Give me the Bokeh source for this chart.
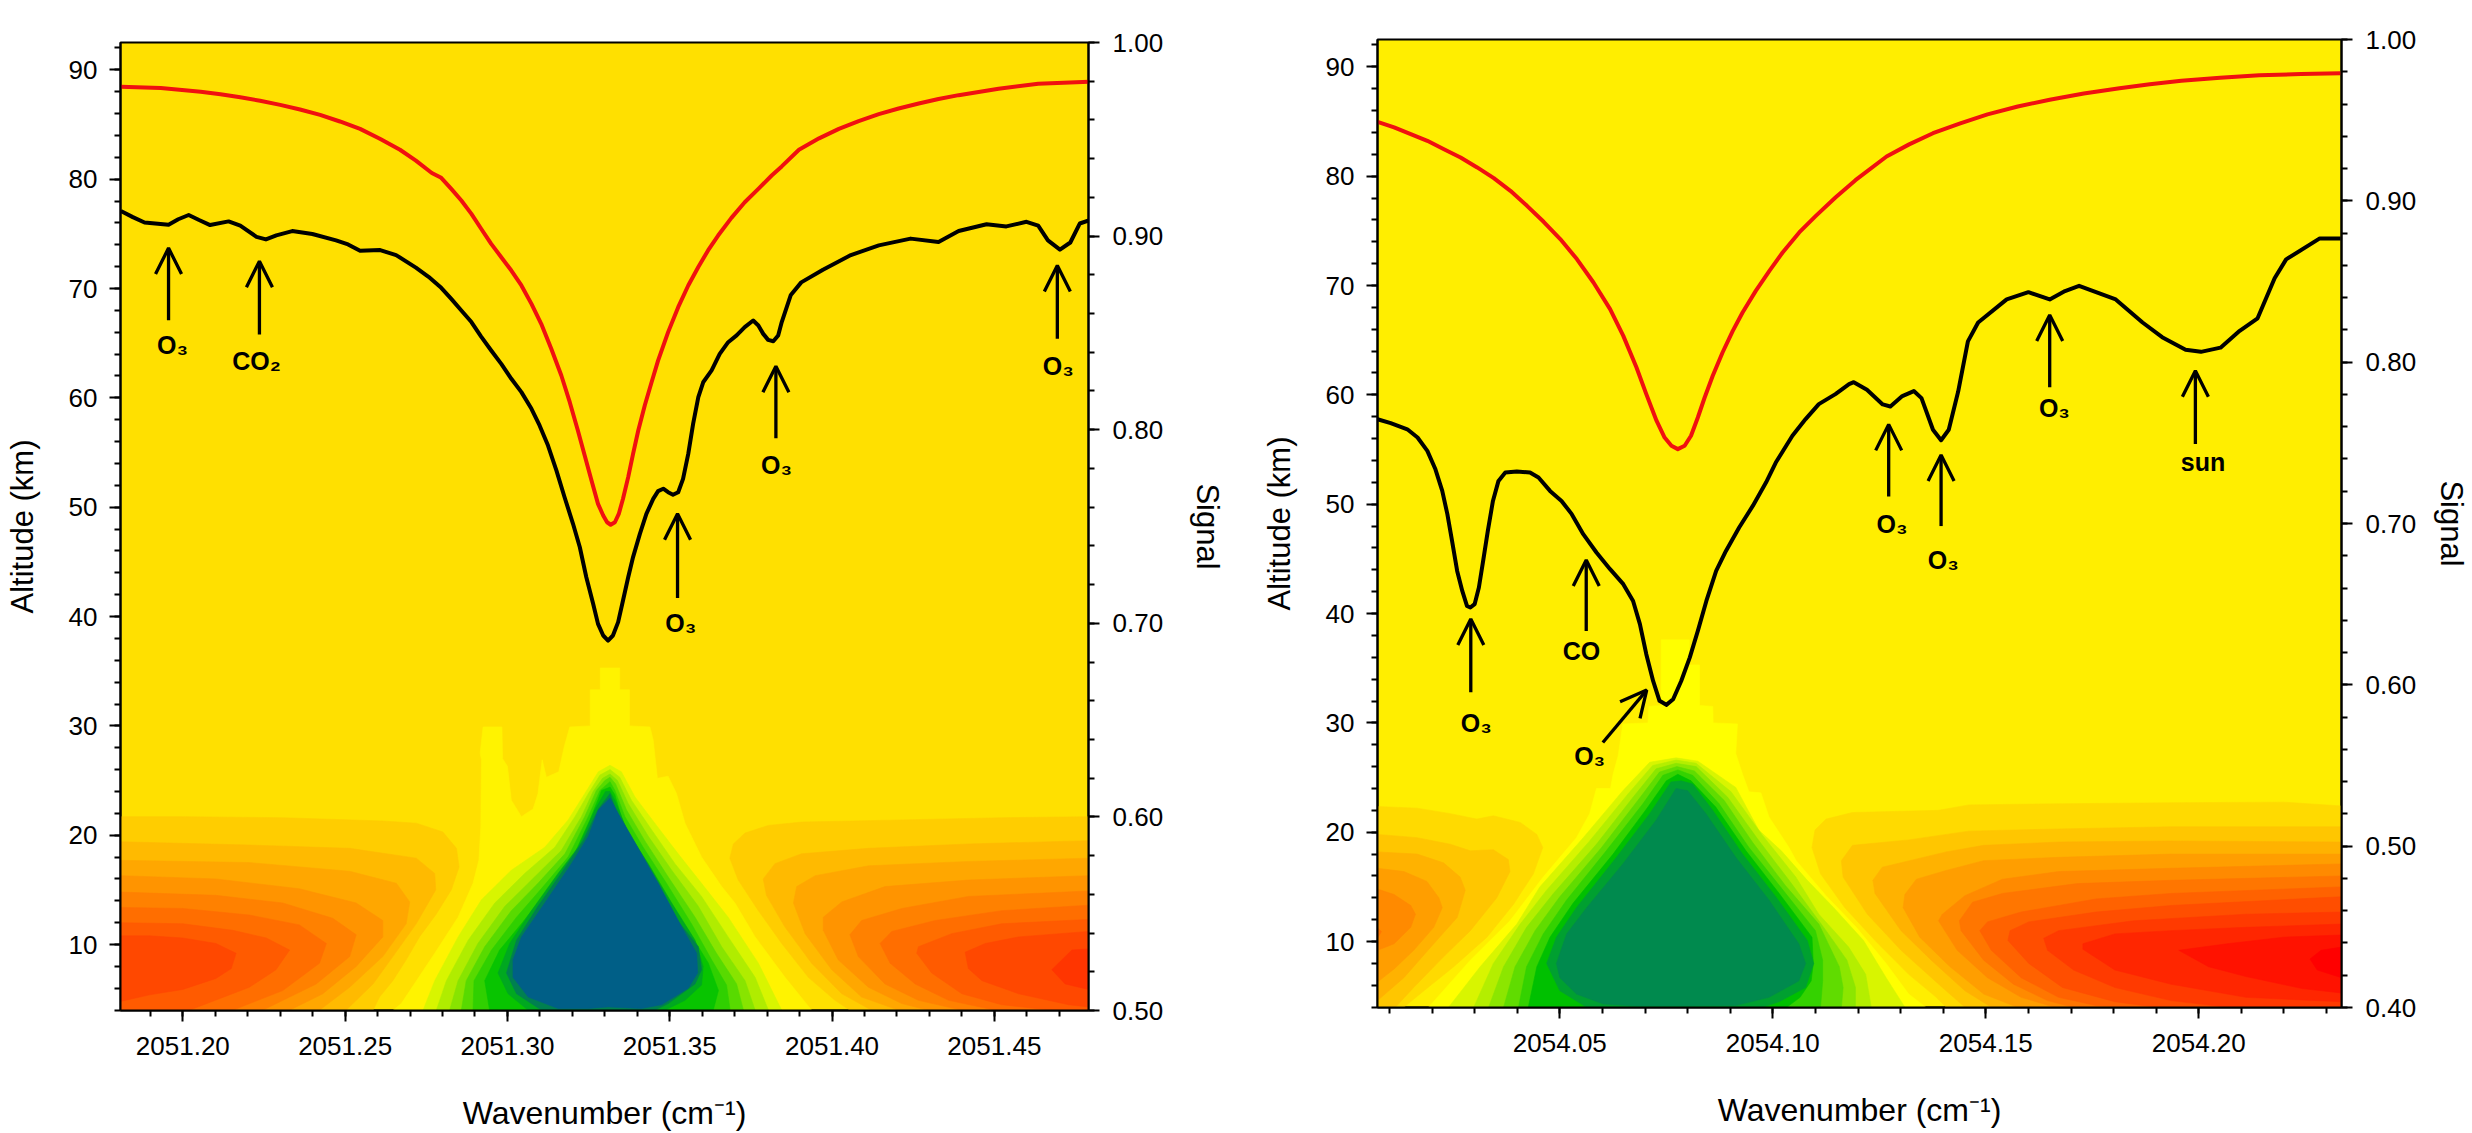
from bokeh.plotting import figure
from bokeh.layouts import row
from bokeh.embed import file_html
from bokeh.resources import INLINE
from bokeh.models import (LinearAxis, Range1d, SingleIntervalTicker,
                          NumeralTickFormatter, Arrow, OpenHead)
from bokeh.core.properties import value
import numpy as np

# wavenumbers below are offsets from the base, in units of 0.0001 cm-1
LEFT_BASE = 2051.0
RIGHT_BASE = 2054.0
LEFT_XLIM = (1808, 4790)
RIGHT_XLIM = (72, 2335)

LEFT_BLACK_WN = [1809,1846,1882,1956,1986,2018,2050,2084,2141,2177,2227,2256,2288,2337,2399,2472,2509,2546,2608,2657,2718,2757,
 2796,2827,2858,2889,2919,2950,2981,3012,3043,3074,3099,3125,3151,3176,3202,3223,3243,3264,3279,3295,3310,3325,3341,3356,3372,3387,3408,3428,3449,3464,3480,3495,3510,3526,3541,3557,3572,3588,3603,3629,3654,3680,3706,3731,3757,3773,3788,3803,3819,3834,3845,
 3873,3905,3972,4058,4144,4242,4328,4390,4476,4537,4599,4635,4665,4702,4734,4763,4795]
LEFT_BLACK_SIGNAL = [.9130,.9098,.9070,.9059,.9087,.9109,.9083,.9057,.9076,.9054,.8996,.8983,.9004,.9026,.9011,.8978,.8957,.8924,.8928,.8902,.8837,.8790,
 .8733,.8676,.8616,.8556,.8481,.8409,.8340,.8263,.8194,.8108,.8022,.7918,.7789,.7651,.7514,.7393,.7238,.7101,.6997,.6937,.6911,.6937,.7006,.7118,.7238,.7342,.7462,.7565,.7643,.7683,.7695,.7677,.7664,.7677,.7746,.7875,.8030,.8168,.8245,.8306,.8392,.8452,.8487,.8530,.8564,.8538,.8495,.8464,.8457,.8487,.8556,
 .8696,.8761,.8826,.8902,.8952,.8987,.8970,.9026,.9061,.9050,.9074,.9054,.8978,.8930,.8967,.9065,.9083]
LEFT_RED_WN = [1809,1932,2055,2116,2177,2238,2300,2361,2423,2484,2546,2607,2669,2718,2767,
 2796,2827,2858,2889,2919,2950,2981,3012,3043,3074,3104,3135,3166,3192,3217,3238,3259,3279,3295,3307,3318,3331,3343,3356,3372,3387,3403,3423,3444,3464,3495,3526,3557,3588,3618,3649,3690,3731,3773,3814,3845,
 3898,3960,4021,4082,4144,4205,4267,4328,4390,4513,4635,4795]
LEFT_RED_SIGNAL = [.9772,.9765,.9746,.9733,.9717,.9699,.9678,.9654,.9626,.9592,.9554,.9503,.9446,.9390,.9326,
 .9301,.9244,.9184,.9115,.9038,.8960,.8891,.8822,.8745,.8650,.8547,.8418,.8280,.8142,.7996,.7867,.7738,.7617,.7557,.7522,.7509,.7522,.7565,.7643,.7755,.7875,.7996,.8125,.8245,.8357,.8504,.8633,.8745,.8840,.8926,.9003,.9094,.9175,.9244,.9313,.9360,
 .9446,.9505,.9554,.9594,.9630,.9659,.9685,.9708,.9728,.9761,.9787,.9798]

RIGHT_BLACK_WN = [72,103,142,166,189,208,224,236,247,259,271,282,290,300,310,320,331,343,356,372,399,430,450,477,504,528,555,586,618,649,672,688,703,719,734,750,766,785,805,824,844,867,890,921,953,984,1007,1046,1077,1108,1147,1179,
 1190,1221,1258,1276,1304,1331,1349,1376,1395,1413,1435,1458,1482,1549,1600,1650,1686,1719,1805,1868,1914,1969,2005,2051,2096,2138,2178,2205,2284,2333]
RIGHT_BLACK_SIGNAL = [.7646,.7622,.7584,.7533,.7450,.7336,.7202,.7058,.6892,.6706,.6582,.6489,.6479,.6500,.6603,.6768,.6954,.7140,.7264,.7316,.7322,.7316,.7285,.7202,.7140,.7058,.6934,.6820,.6717,.6624,.6520,.6376,.6190,.6024,.5901,.5876,.5911,.6024,.6169,.6334,.6520,.6706,.6830,.6975,.7109,.7254,.7378,.7544,.7647,.7740,.7802,.7864,
 .7876,.7829,.7738,.7725,.7790,.7821,.7777,.7581,.7516,.7581,.7816,.8129,.8246,.8389,.8434,.8389,.8441,.8473,.8389,.8246,.8155,.8077,.8064,.8090,.8194,.8272,.8520,.8637,.8767,.8767]
RIGHT_RED_WN = [72,111,150,189,228,267,306,345,384,423,462,501,540,579,618,649,680,703,727,746,762,777,793,808,824,840,859,882,906,929,960,992,1023,1062,1101,1147,1194,
 1267,1320,1376,1440,1504,1575,1650,1730,1814,1885,1959,2050,2142,2240,2333]
RIGHT_RED_SIGNAL = [.9490,.9455,.9413,.9372,.9320,.9269,.9207,.9141,.9062,.8969,.8870,.8763,.8639,.8494,.8329,.8163,.7967,.7802,.7637,.7533,.7482,.7461,.7482,.7544,.7657,.7781,.7916,.8060,.8194,.8308,.8442,.8566,.8680,.8804,.8907,.9021,.9128,
 .9275,.9350,.9419,.9480,.9536,.9585,.9627,.9665,.9698,.9722,.9744,.9763,.9778,.9786,.9791]

# filled contour bands: (wavenumber offset, altitude km) outlines
LEFT_LOBE_A = [
 [(1808,21.7),(2000,21.7),(2308,21.6),(2616,21.3),(2719,21.1),(2801,20.3),(2843,18.8),(2851,17.1),(2827,15),(2781,12.8),(2729,10.7),(2688,8.6),(2647,6.7),(2606,5.2),(2586,4),(1808,4)],
 [(1808,19.4),(2205,19.1),(2514,18.8),(2719,17.9),(2776,16.5),(2779,15),(2719,11.9),(2647,8.9),(2586,6.4),(2503,4),(1808,4)],
 [(1808,17.7),(2205,17.5),(2514,16.7),(2658,15.6),(2699,13.9),(2688,11.9),(2616,8.9),(2514,6.1),(2421,4),(1808,4)],
 [(1808,16.3),(2102,16),(2359,15.1),(2534,13.8),(2616,12.2),(2616,10.7),(2534,8),(2431,5.5),(2329,4),(1808,4)],
 [(1808,14.8),(2102,14.5),(2308,13.8),(2462,12.4),(2534,10.9),(2514,8.9),(2411,6.4),(2329,5.2),(2246,4),(1808,4)],
 [(1808,13.4),(2000,13.3),(2205,12.7),(2359,11.8),(2442,10.1),(2421,8.3),(2308,5.8),(2154,4),(1808,4)],
 [(1808,12),(2000,11.9),(2154,11.3),(2257,10.6),(2329,9.5),(2287,7.7),(2205,6.1),(2020,4),(1808,4)],
 [(1808,10.8),(1897,10.8),(2000,10.6),(2102,10.1),(2164,9.2),(2149,7.8),(2102,6.9),(2000,5.9),(1897,5.4),(1808,4.8)],
]
LEFT_LOBE_B = [
 [(4790,21.7),(4523,21.6),(4215,21.4),(3906,21.2),(3804,20.9),(3732,20.2),(3696,19.2),(3685,17.9),(3711,15.9),(3773,13.1),(3845,10.1),(3927,7),(4009,4.9),(4055,4),(4790,4)],
 [(4790,19.5),(4420,19.2),(4112,18.8),(3906,18.3),(3824,17.4),(3788,16),(3798,14.5),(3855,11.6),(3937,8.3),(4030,5.5),(4122,4),(4790,4)],
 [(4790,17.9),(4420,17.6),(4112,17.2),(3948,16.3),(3891,15.3),(3881,13.8),(3917,11),(3999,7.7),(4091,5.2),(4205,4),(4790,4)],
 [(4790,16.3),(4420,15.9),(4163,15.3),(4030,13.9),(3973,12.5),(3973,11.3),(4019,8.6),(4112,6.1),(4215,4.6),(4297,4),(4790,4)],
 [(4790,14.9),(4420,14.4),(4215,13.3),(4091,12.2),(4055,10.9),(4081,8.9),(4163,6.4),(4266,4.9),(4400,4),(4790,4)],
 [(4790,13.6),(4523,13.1),(4318,12.2),(4184,11.2),(4148,10.1),(4179,8.3),(4256,6.4),(4359,4.9),(4503,4),(4790,4)],
 [(4790,12.3),(4523,11.9),(4369,11),(4266,9.8),(4261,9.2),(4307,7.4),(4400,5.5),(4523,4.5),(4677,4),(4790,4)],
 [(4790,11.2),(4575,10.7),(4472,10.1),(4410,9.3),(4420,7.8),(4462,6.7),(4575,5.5),(4729,4.5),(4790,4.3)],
 [(4790,9.6),(4739,9.5),(4677,7.7),(4718,6.4),(4790,5.9)],
]
LEFT_CORE = [
 [(2648,4),(2673,4.6),(2776,9.2),(2848,12.5),(2894,15.6),(2912,17.7),(2918,20.8),(2920,26.9),(2916,27.5),(2925,29.9),(2983,29.9),(2985,27),(3000,26.3),(3012,23.2),(3043,21.7),(3079,22.4),(3094,23.8),(3107,26.9),(3120,25.3),(3158,25.8),(3175,28.1),(3192,29.9),(3255,30),(3255,33.3),(3286,33.3),(3286,35.3),(3346,35.3),(3346,33.3),(3376,33.3),(3376,30),(3439,29.9),(3449,28.7),(3462,25.2),(3495,25.4),(3521,23.8),(3547,21.1),(3598,18),(3660,15.3),(3701,13.8),(3763,10.7),(3855,7),(3937,4)],
 [(2740,4),(2776,6.7),(2848,10.7),(2920,14.1),(3012,16.8),(3115,18.9),(3187,21.4),(3238,23.8),(3280,25.8),(3316,26.4),(3351,25.8),(3393,23.5),(3454,21.1),(3526,18.3),(3598,15.6),(3680,12.5),(3773,8.3),(3845,4)],
 [(2781,4),(2812,6.7),(2879,10.4),(2961,13.8),(3053,16.5),(3146,18.9),(3208,21.7),(3249,23.8),(3285,25.5),(3316,26),(3346,25.3),(3382,23.2),(3444,20.5),(3516,17.4),(3598,14.4),(3680,10.7),(3763,7),(3804,4)],
 [(2822,4),(2848,6.7),(2909,10.1),(2992,13.5),(3074,15.9),(3166,18.6),(3228,21.7),(3264,24),(3293,25.2),(3316,25.6),(3339,25),(3372,22.9),(3434,19.9),(3506,16.8),(3588,13.5),(3660,9.8),(3732,6.7),(3763,4)],
 [(2858,4),(2873,6.7),(2930,9.8),(3012,13.1),(3094,15.6),(3177,18.3),(3238,21.7),(3274,24.1),(3300,25),(3316,25.3),(3333,24.7),(3367,22.3),(3423,19.5),(3495,16.2),(3578,12.5),(3644,9.2),(3706,6.4),(3727,4)],
 [(2894,4),(2897,6.7),(2951,9.5),(3028,12.5),(3110,15.3),(3187,18),(3249,21.7),(3285,24.1),(3316,24.9),(3331,24.1),(3362,21.7),(3418,18.9),(3490,15.6),(3567,11.9),(3629,8.6),(3675,6.3),(3686,4)],
 [(2945,4),(2930,6.7),(2976,9.5),(3043,11.9),(3125,15),(3197,17.7),(3254,21.4),(3290,24.1),(3316,24.4),(3331,23.7),(3357,21.1),(3413,18.3),(3480,14.7),(3557,11.3),(3619,8.3),(3650,5.8),(3634,4)],
 [(3064,4),(3002,5.5),(2971,7.4),(3007,10.1),(3074,13.1),(3156,16.5),(3218,18.9),(3269,22.3),(3302,24),(3316,24),(3331,23.2),(3372,20.2),(3434,17.4),(3506,13.8),(3578,10.4),(3603,8),(3598,6.3),(3547,4.9),(3485,4)],
 [(3105,4),(3028,5.5),(2997,7.4),(3028,10.4),(3094,13.5),(3172,16.8),(3233,19.5),(3280,22.4),(3316,23.8),(3331,22.6),(3372,19.9),(3444,16.5),(3516,12.5),(3588,9.8),(3598,7.7),(3578,6.4),(3495,4.6),(3454,4)],
 [(3156,4.15),(3064,5.2),(3017,7),(3017,8.6),(3043,10.7),(3115,13.8),(3197,17.4),(3249,19.9),(3280,22.3),(3316,23.4),(3341,22),(3382,19.9),(3465,15.6),(3537,11.6),(3583,9.2),(3586,7.4),(3557,6),(3475,4.5),(3413,4.15),(3310,4.3),(3249,4.15)],
]
RIGHT_LOBE_A = [
 [(72,22.35),(165,22.2),(243,21.7),(305,21.2),(344,21.5),(407,20.9),(446,19.8),(460,18.6),(438,16.2),(391,13.4),(329,10.4),(251,7.7),(181,5.5),(134,4),(72,4)],
 [(72,19.8),(165,19.5),(243,18.9),(290,18.3),(344,18.4),(379,17.5),(383,16.4),(352,14),(290,11),(227,8.6),(157,5.8),(114,4),(72,4)],
 [(72,18.2),(165,18),(227,17.2),(266,15.9),(278,14.7),(259,12.2),(204,9.8),(134,6.7),(72,4.6)],
 [(72,16.7),(134,16.4),(188,15.5),(216,14),(224,13.1),(204,11.3),(157,9.2),(111,7.5),(72,6.3)],
 [(72,14.8),(111,14.3),(150,13.3),(161,12.5),(150,11.3),(111,9.8),(72,9.2)],
 [(72,11.3),(81,10.9),(72,10.3)],
]
RIGHT_LOBE_B = [
 [(2335,22.4),(2199,22.75),(1935,22.7),(1671,22.6),(1460,22.5),(1389,22),(1187,21.8),(1125,21.2),(1099,20.2),(1092,18.6),(1112,16.2),(1169,13.1),(1240,10.1),(1319,7),(1381,5),(1407,4),(2335,4)],
 [(2335,20.5),(1935,20.5),(1671,20.3),(1460,20.1),(1319,19.3),(1187,18.8),(1161,17.4),(1165,15.9),(1222,12.5),(1301,9.2),(1398,5.8),(1451,4),(2335,4)],
 [(2335,19.1),(1935,19.2),(1671,19.1),(1495,18.8),(1407,18.2),(1257,16.8),(1235,15.6),(1240,14.4),(1301,11),(1372,8.3),(1451,5.5),(1513,4),(2335,4)],
 [(2335,18),(1935,18),(1671,17.7),(1495,17.4),(1407,16.5),(1337,15.7),(1310,14.3),(1306,13.1),(1345,10.4),(1416,7.7),(1495,5.2),(1574,4),(2335,4)],
 [(2335,17.1),(1935,16.7),(1671,16.4),(1539,15.7),(1451,14.2),(1398,12.5),(1389,11.9),(1433,9.2),(1504,6.7),(1583,4.9),(1662,4),(2335,4)],
 [(2335,16),(1935,15.6),(1715,15.3),(1539,14.4),(1469,13.6),(1438,11.9),(1442,11),(1495,8.3),(1565,6.1),(1645,4.6),(1705,4),(2335,4)],
 [(2335,15),(1935,14.4),(1759,13.9),(1583,12.7),(1504,11.8),(1486,11),(1513,9.2),(1583,6.7),(1671,4.9),(1759,4.15),(1829,4),(2335,4)],
 [(2335,14.1),(1935,13.3),(1759,12.7),(1601,11.8),(1557,11),(1552,10.1),(1601,8),(1680,5.8),(1803,4.5),(1900,4),(2335,4)],
 [(2335,12.7),(2111,12.5),(1847,11.9),(1671,11),(1636,10.3),(1645,9.2),(1706,7.4),(1803,5.8),(1935,4.6),(2067,4),(2335,4)],
 [(2335,11.6),(2111,11.3),(1935,11),(1803,10.7),(1728,9.8),(1728,9.3),(1803,7.4),(1935,6.1),(2111,4.9),(2335,4.5)],
 [(2335,10.6),(2199,10.4),(2067,9.8),(1953,9.2),(2023,7.7),(2111,6.8),(2243,5.7),(2335,5.3)],
 [(2335,9.5),(2287,9.2),(2261,8.4),(2278,7.4),(2335,6.7)],
]
RIGHT_CORE = [
 [(192,4),(290,8.3),(383,11.9),(461,15.9),(539,19.5),(570,21.7),(586,24),(619,24),(625,25.3),(637,27),(648,29.9),(707,30),(709,31.5),(738,31.6),(738,37.6),(804,37.6),(804,35.3),(828,35.3),(828,31.6),(859,31.5),(860,30),(917,29.9),(913,27.2),(929,25.3),(944,23.7),(972,23.6),(991,21.4),(1038,18.6),(1055,17.4),(1125,14.2),(1196,11.3),(1266,8),(1319,5.2),(1359,4)],
 [(239,4),(313,7.7),(399,11.6),(453,15),(555,19.5),(648,23.8),(711,26.4),(773,26.8),(824,26.5),(913,24.1),(967,20.2),(1020,18.3),(1081,15.6),(1143,13.1),(1213,10.1),(1266,6.7),(1310,4)],
 [(298,4),(344,8),(407,11.6),(469,14.7),(570,19.2),(660,23.5),(718,26.1),(773,26.6),(820,26.3),(902,23.7),(976,19.7),(1054,15.9),(1108,12.5),(1178,9.5),(1218,7),(1231,4)],
 [(333,4),(368,7.7),(422,11.3),(485,14.4),(586,18.9),(672,23.2),(726,25.8),(773,26.3),(820,26),(894,23.2),(964,19.4),(1042,15.4),(1125,11),(1174,8.3),(1194,5.8),(1194,4)],
 [(368,4),(395,7.7),(442,11),(500,14.1),(598,18.6),(683,22.9),(734,25.5),(775,26),(816,25.6),(886,22.9),(952,19.1),(1030,15.1),(1108,11.6),(1156,7.7),(1165,5.8),(1161,4)],
 [(403,4),(422,7.7),(461,10.7),(516,13.8),(609,18.3),(695,22.6),(742,25.2),(777,25.7),(812,25.2),(874,22.6),(944,18.6),(1022,14.8),(1100,11),(1117,8.3),(1117,6.4),(1112,4)],
 [(426,4),(446,7.7),(477,10.4),(531,13.5),(625,18),(703,22.1),(750,24.7),(777,25.3),(808,24.7),(866,22.3),(937,18.3),(1015,14.4),(1092,10.4),(1095,8),(1090,6.4),(1064,4.9),(1033,4)],
 [(563,4),(500,5.5),(469,8),(492,10.4),(539,13.1),(633,17.7),(711,21.7),(761,24.6),(785,24.7),(812,24.4),(859,22),(929,18),(1007,14.1),(1081,10.1),(1096,8),(1077,5.8),(1015,4.5),(976,4)],
 [(492,8),(516,10.7),(563,13.1),(648,17.1),(726,21.1),(773,24),(800,23.8),(843,21.7),(913,17.7),(991,13.8),(1061,9.8),(1077,8),(1061,6.4),(991,4.9),(913,4.15),(796,4.1),(680,4.1),(602,4.3),(539,5.2),(500,6.7)],
]
LEFT_LOBE_COLORS = ["#FFCD00","#FFBA00","#FFA700","#FF9400","#FF8100","#FF6E00","#FF5B00","#FF4800","#FF3500"]
LEFT_CORE_COLORS = ["#FFF300","#D8F500","#B0EC00","#88E400","#58DA00","#30D000","#08C400","#00A820","#008050","#005F87"]
RIGHT_LOBE_COLORS = ["#FFDA00","#FFC600","#FFB200","#FF9E00","#FF8A00","#FF7600","#FF6200","#FF4E00","#FF3A00","#FF2600","#FF1200","#FF0000"]
RIGHT_CORE_COLORS = ["#FFFF00","#D8F500","#B4EE00","#8CE600","#60DC00","#34D200","#00C000","#00A030","#008A4E"]

# annotation arrows: wavenumber offset, tail km, head km
LEFT_ARROWS = [(1956,67.1,1956,73.7),(2236,65.8,2236,72.5),(4694,65.4,4694,72.1),(3827,56.3,3827,62.9),(3524,41.7,3524,49.4)]
RIGHT_ARROWS = [(291,32.8,291,39.5),(562,38.4,562,44.9),(601,28.2,704,33),(1272,50.7,1272,57.3),(1395,48,1395,54.5),(1650,60.7,1650,67.3),(1992,55.5,1992,62.2)]
LEFT_LABELS = ["O₃","CO₂","O₃","O₃","O₃"]
LEFT_LABEL_WN = [1968,2227,4697,3829,3534]
LEFT_LABEL_KM = [64.8,63.4,62.9,53.9,39.4]
RIGHT_LABELS = ["O₃","CO","O₃","O₃","O₃","O₃","sun"]
RIGHT_LABEL_WN = [304,551,570,1280,1400,1661,2010]
RIGHT_LABEL_KM = [30,36.6,27,48.2,44.9,58.8,53.9]

FONT = "Liberation Sans"

def panel(base, xlim, sig0, bg, width, bl, br, bands, black, red, arrows, labels, signal_standoff, styles):
    x0, x1 = base + xlim[0]*1e-4, base + xlim[1]*1e-4
    p = figure(width=width, height=1133, output_backend="svg", toolbar_location=None,
               x_range=Range1d(x0, x1), y_range=Range1d(3.97, 92.5),
               min_border_left=bl, min_border_right=br, min_border_top=42, min_border_bottom=123,
               background_fill_color=bg, outline_line_color="#000000", outline_line_width=2, styles=styles)
    p.grid.visible = False
    p.extra_y_ranges = {"signal": Range1d(sig0, 1.0)}
    for polys, colors in bands:
        xs = [[base + a*1e-4 for a, _ in poly] for poly in polys]
        ys = [[b for _, b in poly] for poly in polys]
        p.patches(xs, ys, fill_color=colors[:len(polys)], line_color=colors[:len(polys)], line_width=0.6)
    p.line(base + np.array(red[0])*1e-4, red[1], y_range_name="signal", line_color="#F01010", line_width=4, line_join="round")
    p.line(base + np.array(black[0])*1e-4, black[1], y_range_name="signal", line_color="#000000", line_width=4, line_join="round")
    for (a, b, c, d) in arrows:
        p.add_layout(Arrow(x_start=base + a*1e-4, y_start=b, x_end=base + c*1e-4, y_end=d, line_width=3.3,
                           end=OpenHead(size=26, line_width=3.3, line_color="#000000"), line_color="#000000"))
    p.text(base + np.array(labels[1])*1e-4, labels[2], text=labels[0], text_font=value(FONT),
           text_font_style="bold", text_font_size="25px", text_align="center", text_baseline="middle",
           text_color="#000000")
    right = LinearAxis(y_range_name="signal", ticker=SingleIntervalTicker(interval=0.1, num_minor_ticks=5),
                       formatter=NumeralTickFormatter(format="0.00"), axis_label="Signal")
    p.add_layout(right, "right")
    for ax in (p.xaxis[0], p.yaxis[0], right):
        ax.major_label_text_font = FONT
        ax.major_label_text_font_size = "26px"
        ax.major_label_text_color = "#000000"
        ax.axis_label_text_font = FONT
        ax.axis_label_text_font_size = "31px"
        ax.axis_label_text_font_style = "normal"
        ax.axis_label_text_color = "#000000"
        ax.major_tick_in = 0
        ax.minor_tick_in = 0
        ax.major_tick_out = 11
        ax.minor_tick_out = 6
        ax.axis_line_width = 2
        ax.major_tick_line_width = 2
        ax.minor_tick_line_width = 2
        ax.axis_line_color = "#000000"
        ax.major_tick_line_color = "#000000"
        ax.minor_tick_line_color = "#000000"
    p.xaxis[0].ticker = SingleIntervalTicker(interval=0.05, num_minor_ticks=5)
    p.xaxis[0].formatter = NumeralTickFormatter(format="0.00")
    p.xaxis[0].axis_label = "Wavenumber (cm⁻¹)"
    p.xaxis[0].axis_label_text_font_size = "32px"
    p.xaxis[0].major_label_standoff = 15
    p.xaxis[0].axis_label_standoff = 37
    p.yaxis[0].ticker = SingleIntervalTicker(interval=10, num_minor_ticks=5)
    p.yaxis[0].axis_label = "Altitude (km)"
    p.yaxis[0].major_label_standoff = 12
    p.yaxis[0].axis_label_standoff = 26
    right.major_label_standoff = 13
    right.axis_label_standoff = signal_standoff
    return p

left = panel(LEFT_BASE, LEFT_XLIM, 0.5, "#FFE000", 1240, 120, 152,
             [(LEFT_LOBE_A, LEFT_LOBE_COLORS), (LEFT_LOBE_B, LEFT_LOBE_COLORS), (LEFT_CORE, LEFT_CORE_COLORS)],
             (LEFT_BLACK_WN, LEFT_BLACK_SIGNAL), (LEFT_RED_WN, LEFT_RED_SIGNAL), LEFT_ARROWS,
             (LEFT_LABELS, LEFT_LABEL_WN, LEFT_LABEL_KM), 24, {})
right = panel(RIGHT_BASE, RIGHT_XLIM, 0.4, "#FFEE00", 1232, 137, 127,
              [(RIGHT_LOBE_A, RIGHT_LOBE_COLORS), (RIGHT_LOBE_B, RIGHT_LOBE_COLORS), (RIGHT_CORE, RIGHT_CORE_COLORS)],
              (RIGHT_BLACK_WN, RIGHT_BLACK_SIGNAL), (RIGHT_RED_WN, RIGHT_RED_SIGNAL), RIGHT_ARROWS,
              (RIGHT_LABELS, RIGHT_LABEL_WN, RIGHT_LABEL_KM), 15, {"transform": "translateY(-3px)"})

open("out.html", "w").write(file_html(row(left, right, spacing=0), INLINE))
